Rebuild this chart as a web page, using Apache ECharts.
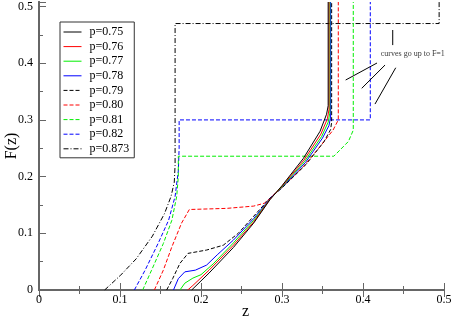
<!DOCTYPE html>
<html><head><meta charset="utf-8">
<script src="https://cdn.jsdelivr.net/npm/echarts@6/dist/echarts.min.js"></script>
<style>html,body{margin:0;padding:0;background:#fff}#c{width:454px;height:317px}</style>
</head><body><div id="c"></div>
<script>
// ---- data (z, F(z)) ----
const seriesNames = ["p=0.75","p=0.76","p=0.77","p=0.78","p=0.79","p=0.80","p=0.81","p=0.82","p=0.873"];
const p075 = [[0.1885,0],[0.21,0.03],[0.24,0.075],[0.265,0.118],[0.285,0.159],[0.30,0.184],[0.3263,0.232],[0.347,0.280],[0.355,0.31],[0.357,0.325],[0.357,0.508]];
const p076 = [[0.1836,0],[0.19,0.008],[0.21,0.035],[0.24,0.079],[0.265,0.12],[0.285,0.16],[0.30,0.183],[0.327,0.229],[0.348,0.275],[0.356,0.302],[0.358,0.318],[0.358,0.508]];
const p077 = [[0.174,0],[0.18,0.012],[0.19,0.021],[0.20,0.027],[0.215,0.046],[0.24,0.083],[0.265,0.123],[0.285,0.16],[0.30,0.182],[0.328,0.227],[0.349,0.271],[0.357,0.296],[0.359,0.312],[0.359,0.508]];
const p078 = [[0.166,0],[0.172,0.02],[0.18,0.032],[0.193,0.035],[0.207,0.044],[0.22,0.062],[0.24,0.088],[0.265,0.126],[0.285,0.161],[0.30,0.181],[0.329,0.225],[0.35,0.268],[0.358,0.29],[0.360,0.305],[0.360,0.508]];
const p079 = [[0.1576,0],[0.165,0.02],[0.174,0.047],[0.184,0.0646],[0.207,0.0705],[0.2275,0.079],[0.246,0.1],[0.265,0.13],[0.285,0.162],[0.30,0.180],[0.33,0.222],[0.352,0.262],[0.36,0.283],[0.3613,0.296],[0.3613,0.508]];
const p080 = [[0.1424,0],[0.1535,0.035],[0.164,0.076],[0.176,0.118],[0.1856,0.142],[0.232,0.144],[0.265,0.148],[0.278,0.153],[0.29,0.168],[0.30,0.181],[0.326,0.217],[0.347,0.253],[0.363,0.282],[0.3695,0.3],[0.3695,0.508]];
const p081 = [[0.128,0],[0.139,0.035],[0.1535,0.082],[0.164,0.123],[0.170,0.165],[0.172,0.2],[0.172,0.236],[0.364,0.236],[0.382,0.262],[0.388,0.282],[0.388,0.508]];
const p082 = [[0.1177,0],[0.131,0.035],[0.147,0.082],[0.160,0.123],[0.168,0.165],[0.172,0.21],[0.173,0.25],[0.173,0.3],[0.409,0.3],[0.409,0.508]];
const p0873 = [[0.081,0],[0.10,0.025],[0.12,0.055],[0.14,0.095],[0.155,0.135],[0.163,0.165],[0.167,0.19],[0.168,0.22],[0.168,0.47],[0.494,0.47],[0.494,0.508]];
const annotationText = "curves go up to F=1";
const annotationLines = [
  [[0.4367,0.4586],[0.4367,0.432]],
  [[0.3786,0.3704],[0.4173,0.4004]],
  [[0.3984,0.3557],[0.4272,0.3968]],
  [[0.4148,0.328],[0.4404,0.392]]
];
const xTicks = [0,0.1,0.2,0.3,0.4,0.5];
const yTicks = [0,0.1,0.2,0.3,0.4,0.5];

const allData = [p075,p076,p077,p078,p079,p080,p081,p082,p0873];
const colors = ["#000000","#ff0000","#00ee00","#0000ff","#000000","#ff0000","#00ee00","#0000ff","#000000"];
const dashes = ["solid","solid","solid","solid",[4,2],[4,2],[4,2],[4,2],[5,2,1,2]];
const serif = "Liberation Serif";

const chart = echarts.init(document.getElementById('c'), null, {renderer:'canvas'});
const axisCol = "#666";
const series = allData.map((d,i)=>({
  name: seriesNames[i], type:'line', data:d, symbol:'none', silent:true, animation:false,
  lineStyle:{color:colors[i], width:1, type:dashes[i]}, itemStyle:{color:colors[i]}, z: 10-i
}));
annotationLines.forEach(l=>series.push({type:'line', data:l, symbol:'none', silent:true, animation:false,
  lineStyle:{color:'#000', width:1}}));
series.push({type:'scatter', data:[[0.4615,0.416]], symbolSize:0, silent:true, animation:false,
  label:{show:true, position:'inside', formatter:annotationText, fontFamily:serif, fontSize:8, color:'#000'}});

const common = {
  min:0, interval:0.1, type:'value',
  axisLine:{show:true, lineStyle:{color:axisCol, width:2}},
  splitLine:{show:false},
  minorTick:{show:true, splitNumber:2, length:4, lineStyle:{color:axisCol, width:1}},
  axisTick:{show:true, inside:true, length:7, lineStyle:{color:axisCol, width:1}},
};
chart.setOption({
  animation:false,
  backgroundColor:'#fff',
  grid:{left:39, right:10, top:2, bottom:27, containLabel:false, outerBoundsMode:'none'},
  legend:{
    data:seriesNames, orient:'vertical', left:60, top:22,
    padding:[4,5,3,3], itemWidth:18, itemHeight:10, itemGap:2.6,
    borderColor:'#333', borderWidth:1, backgroundColor:'#fff',
    itemStyle:{opacity:0}, lineStyle:{width:1},
    textStyle:{fontFamily:serif, fontSize:12, lineHeight:10, color:'#000', padding:[0,0,0,3]},
    selectedMode:false
  },
  xAxis:[
    Object.assign({}, common, {max:0.5, position:'bottom',
      name:'z', nameLocation:'middle', nameGap:14, nameMoveOverlap:false,
      nameTextStyle:{fontFamily:serif, fontSize:16, color:'#000', padding:[0,0,0,8]},
      axisLabel:{fontFamily:serif, fontSize:12, color:'#000', margin:4,
        formatter:v=>xTicks.some(t=>Math.abs(t-v)<1e-6)?String(Math.round(v*10)/10):''}}),
    Object.assign({}, common, {max:0.5, position:'top', axisLabel:{show:false}})
  ],
  yAxis:[
    Object.assign({}, common, {max:0.508, position:'left',
      name:'F(z)', nameLocation:'middle', nameGap:19, nameRotate:90, nameMoveOverlap:false,
      nameTextStyle:{fontFamily:serif, fontSize:16, color:'#000'},
      axisLabel:{fontFamily:serif, fontSize:12, color:'#000', margin:6, showMaxLabel:false,
        formatter:v=>yTicks.some(t=>Math.abs(t-v)<1e-6)?String(Math.round(v*10)/10):''}}),
    Object.assign({}, common, {max:0.508, position:'right', axisLabel:{show:false},
      axisTick:{show:true, inside:false, length:7, lineStyle:{color:axisCol,width:1}},
      minorTick:{show:true, splitNumber:2, length:4, lineStyle:{color:axisCol, width:1}}})
  ],
  series: series
});
</script></body></html>
